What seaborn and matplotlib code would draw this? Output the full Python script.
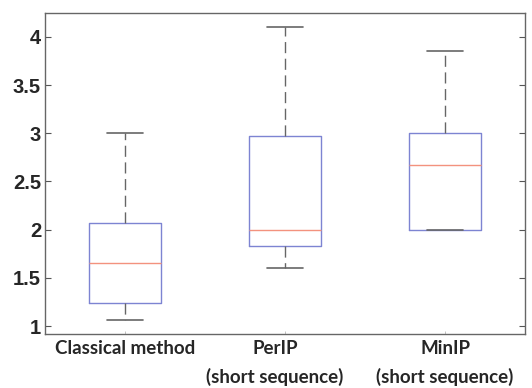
import pandas as pd
import matplotlib.pyplot as plt
import matplotlib.transforms as mtransforms
import seaborn as sns

# five-number summaries: min, q1, median, q3, max
CATEGORIES = ["Classical method", "PerIP\n(short sequence)", "MinIP\n(short sequence)"]
classical = [1.06, 1.24, 1.65, 2.07, 3.00]
perip = [1.60, 1.83, 2.00, 2.97, 4.10]
minip = [2.00, 2.00, 2.67, 3.00, 3.85]
Y_TICKS = [1, 1.5, 2, 2.5, 3, 3.5, 4]
Y_TICK_LABELS = ["1", "1.5", "2", "2.5", "3", "3.5", "4"]

BOX_BLUE = "#7d84d2"
MEDIAN_RED = "#f3927e"
WHISKER_GREY = "#666666"


def build_frame():
    rows = []
    for cat, vals in zip(CATEGORIES, [classical, perip, minip]):
        for v in vals:
            rows.append({"method": cat, "value": v})
    return pd.DataFrame(rows)


def main():
    sns.set_style("white")
    df = build_frame()

    fig = plt.figure(figsize=(5.32, 3.88), dpi=100)
    ax = fig.add_axes([0.085, 0.139, 0.902, 0.828])

    sns.boxplot(
        data=df, x="method", y="value", order=CATEGORIES,
        width=0.45, fill=False, whis=1.5, showfliers=False,
        boxprops=dict(color=BOX_BLUE, linewidth=1.0),
        medianprops=dict(color=MEDIAN_RED, linewidth=1.0),
        whiskerprops=dict(color=WHISKER_GREY, linewidth=1.0, linestyle=(0, (8, 4))),
        capprops=dict(color=WHISKER_GREY, linewidth=1.2),
        ax=ax,
    )

    ax.set_xlim(-0.5, 2.5)
    ax.set_ylim(0.917, 4.25)
    ax.set_xlabel("")
    ax.set_ylabel("")

    ax.set_yticks(Y_TICKS)
    ax.set_yticklabels(Y_TICK_LABELS, fontfamily="Liberation Sans",
                       fontweight="bold", fontsize=14.5)
    ax.set_xticks(range(len(CATEGORIES)))
    ax.set_xticklabels(CATEGORIES, fontfamily="Lato", fontweight="bold",
                       fontsize=13.5, linespacing=1.75)

    ax.tick_params(axis="y", direction="in", length=4, width=0.8,
                   color="#555555", left=True, right=True, pad=3)
    ax.tick_params(axis="x", direction="in", length=2, width=0.5,
                   color="#aaaaaa", bottom=True, pad=4)

    # the middle label sits a little left of its box in the original
    lbl = ax.get_xticklabels()[1]
    lbl.set_transform(lbl.get_transform() +
                      mtransforms.ScaledTranslation(-10 / 100, 0, fig.dpi_scale_trans))

    for side in ["left", "right", "top", "bottom"]:
        ax.spines[side].set_visible(True)
        ax.spines[side].set_color("#666666")
        ax.spines[side].set_linewidth(1.0)

    fig.savefig("out.png", dpi=100)
    plt.close(fig)


if __name__ == "__main__":
    main()
